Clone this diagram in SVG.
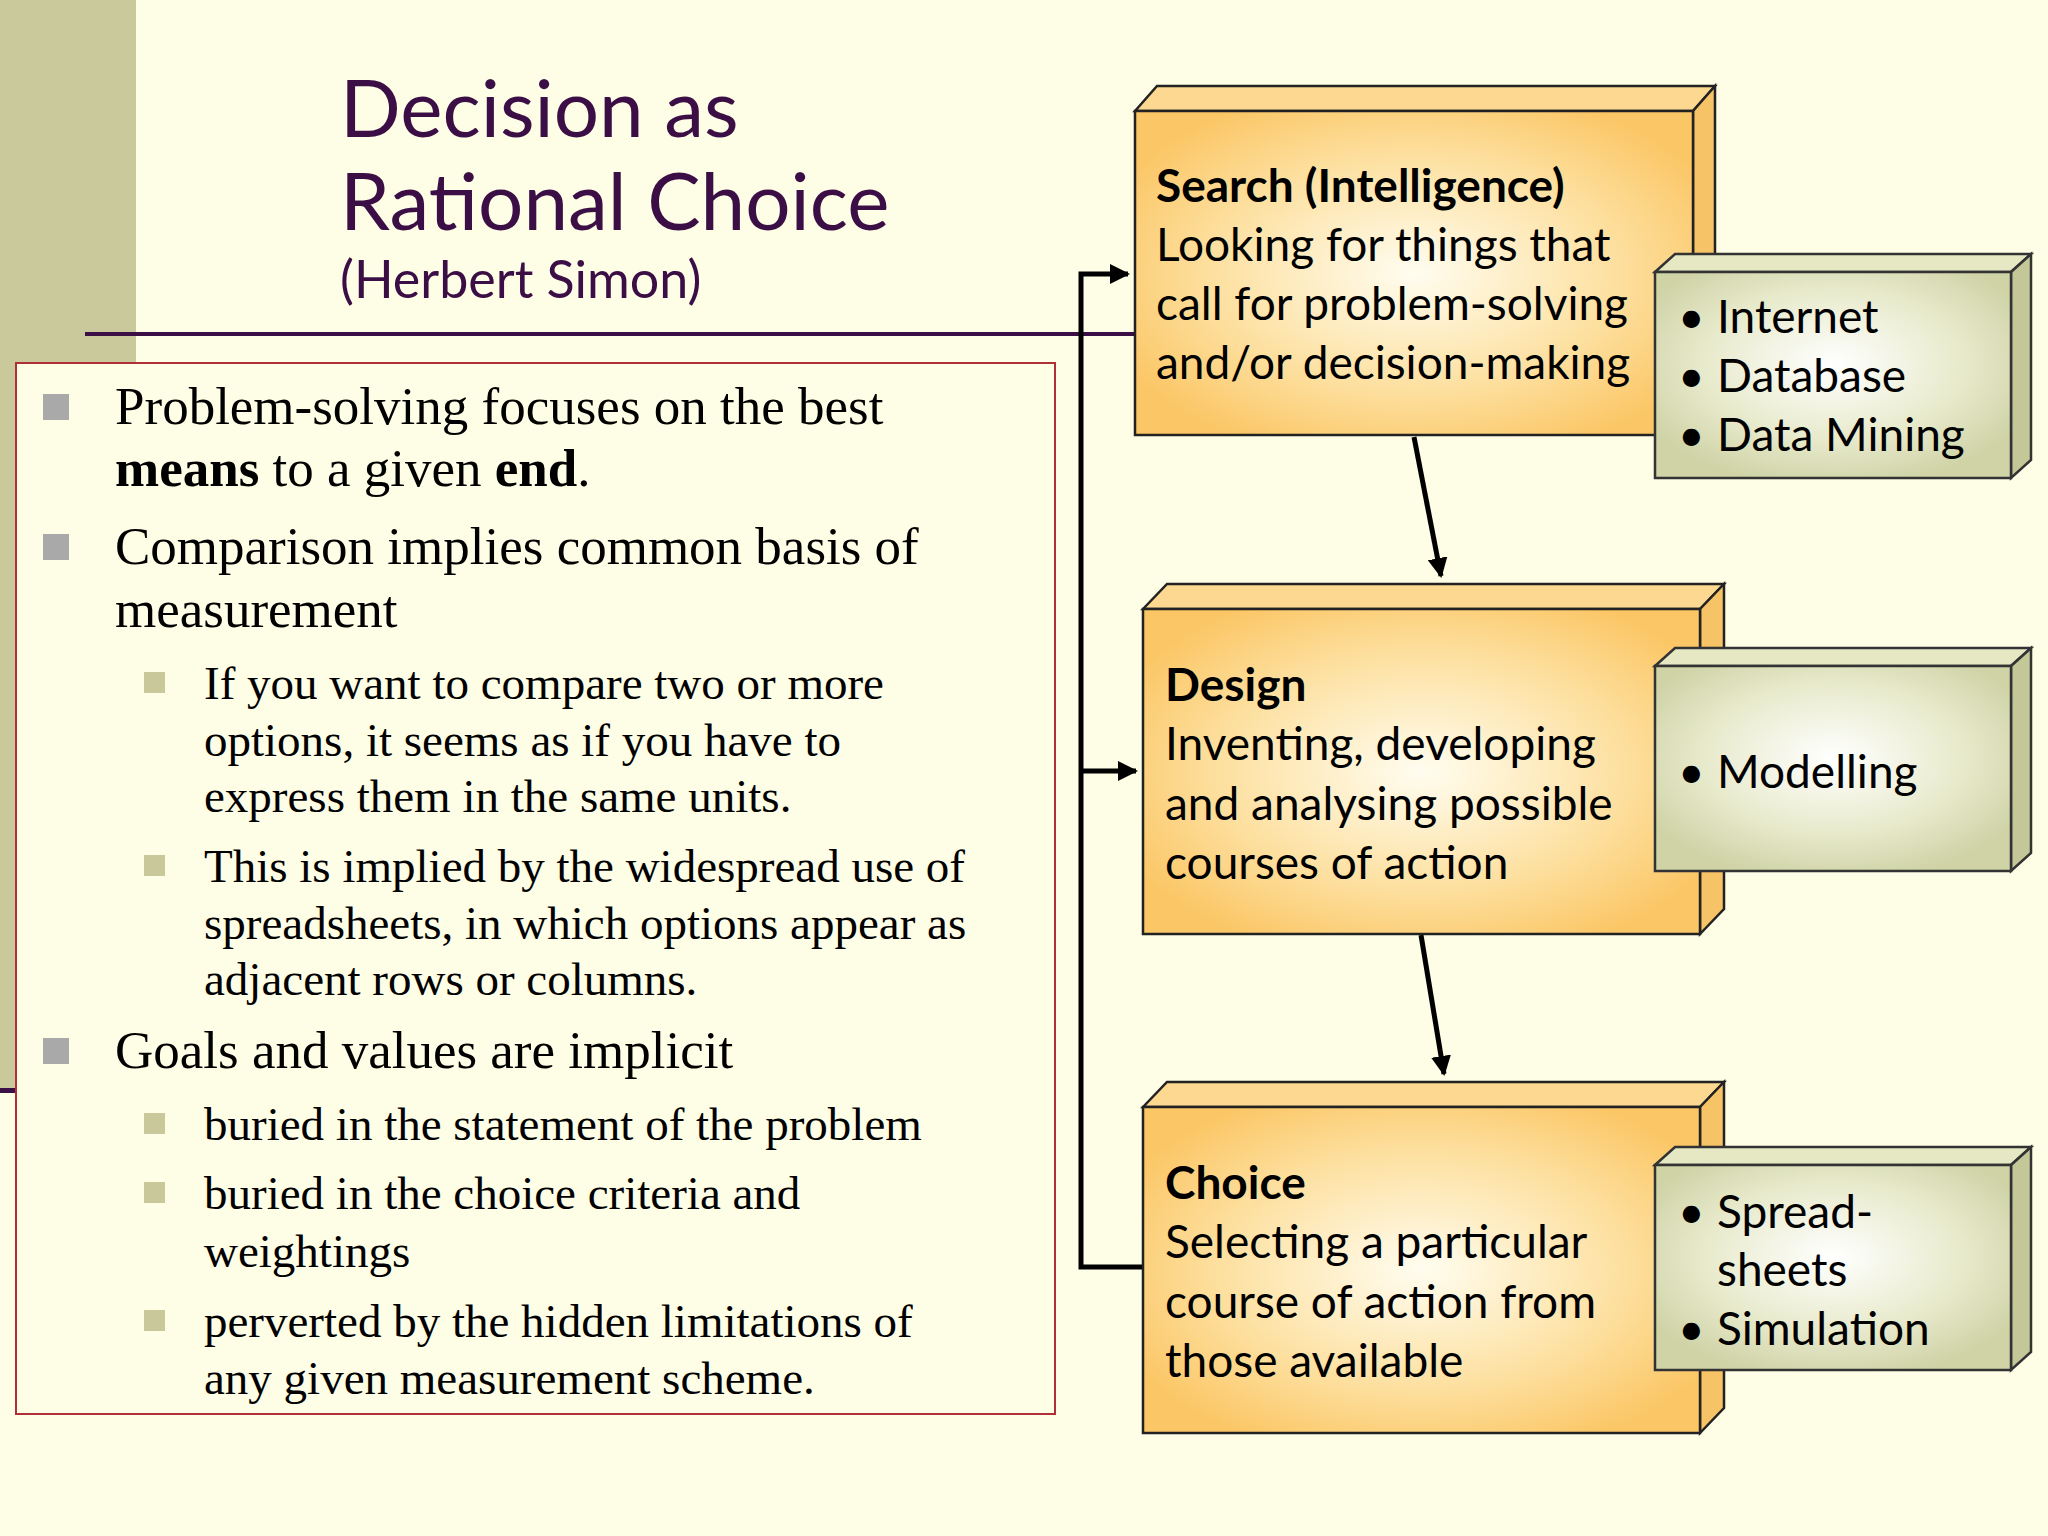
<svg xmlns="http://www.w3.org/2000/svg" width="2048" height="1536" viewBox="0 0 2048 1536">
<defs>
<radialGradient id="og" cx="0.5" cy="0.5" r="0.6"><stop offset="0" stop-color="#fffdf0"/><stop offset="0.6" stop-color="#fde0a0"/><stop offset="1" stop-color="#fbc665"/></radialGradient>
<radialGradient id="gg" cx="0.5" cy="0.45" r="0.6"><stop offset="0" stop-color="#ffffff"/><stop offset="0.6" stop-color="#e8eacc"/><stop offset="1" stop-color="#cfd3a6"/></radialGradient>
<marker id="ah" viewBox="0 0 10 10" refX="9" refY="5" markerWidth="4" markerHeight="4" orient="auto"><path d="M0,0 L10,5 L0,10 z" fill="#000"/></marker>
<style>
.t{font-family:"Liberation Serif",serif;fill:#000}
.m{font-size:53px}.s{font-size:47px}
.b{font-family:Lato,"Open Sans",sans-serif;font-size:46px;fill:#000}
.tt{font-family:Lato,"Open Sans",sans-serif;fill:#3b0f45}
.sq{fill:#a9a9a9}.ssq{fill:#c8c89a}
.of{fill:url(#og);stroke:#222;stroke-width:2.5}
.ot{fill:#fcd890;stroke:#222;stroke-width:2.5}
.os{fill:#f6c366;stroke:#222;stroke-width:2.5}
.gf{fill:url(#gg);stroke:#333;stroke-width:2.5}
.gt{fill:#e6e8c4;stroke:#333;stroke-width:2.5}
.gs{fill:#c4c898;stroke:#333;stroke-width:2.5}
.c{fill:none;stroke:#000;stroke-width:5}
</style>
</defs>
<rect width="2048" height="1536" fill="#fefde6"/>
<rect x="0" y="0" width="136" height="1090" fill="#c9c99b"/>
<rect x="0" y="1088" width="16" height="5" fill="#3b0f45"/>
<line x1="85" y1="334" x2="1140" y2="334" stroke="#3b0f45" stroke-width="4"/>
<g id="title">
<text class="tt" x="340" y="137" font-size="80">Decision as</text>
<text class="tt" x="340" y="230" font-size="80">Rational Choice</text>
<text class="tt" x="340" y="298" font-size="52">(Herbert Simon)</text>
</g>
<g id="textbox">
<rect x="16" y="363" width="1039" height="1051" fill="#fefde6" stroke="#b03038" stroke-width="2"/>
<rect class="sq" x="43" y="394" width="26" height="26"/>
<text class="t m" x="115" y="424">Problem-solving focuses on the best</text>
<text class="t m" x="115" y="486"><tspan font-weight="bold">means</tspan> to a given <tspan font-weight="bold">end</tspan>.</text>
<rect class="sq" x="43" y="534" width="26" height="26"/>
<text class="t m" x="115" y="564">Comparison implies common basis of</text>
<text class="t m" x="115" y="627">measurement</text>
<rect class="ssq" x="144" y="672" width="21" height="21"/>
<text class="t s" x="204" y="699">If you want to compare two or more</text>
<text class="t s" x="204" y="756">options, it seems as if you have to</text>
<text class="t s" x="204" y="812">express them in the same units.</text>
<rect class="ssq" x="144" y="855" width="21" height="21"/>
<text class="t s" x="204" y="882">This is implied by the widespread use of</text>
<text class="t s" x="204" y="939">spreadsheets, in which options appear as</text>
<text class="t s" x="204" y="995">adjacent rows or columns.</text>
<rect class="sq" x="43" y="1038" width="26" height="26"/>
<text class="t m" x="115" y="1068">Goals and values are implicit</text>
<rect class="ssq" x="144" y="1113" width="21" height="21"/>
<text class="t s" x="204" y="1140">buried in the statement of the problem</text>
<rect class="ssq" x="144" y="1182" width="21" height="21"/>
<text class="t s" x="204" y="1209">buried in the choice criteria and</text>
<text class="t s" x="204" y="1267">weightings</text>
<rect class="ssq" x="144" y="1310" width="21" height="21"/>
<text class="t s" x="204" y="1337">perverted by the hidden limitations of</text>
<text class="t s" x="204" y="1394">any given measurement scheme.</text>
</g>
<g id="connectors">
<path class="c" d="M1143,1267 H1081 V274 H1128" marker-end="url(#ah)"/>
<path class="c" d="M1081,771 H1136" marker-end="url(#ah)"/>
<line class="c" x1="1414" y1="437" x2="1441" y2="576" marker-end="url(#ah)"/>
<line class="c" x1="1421" y1="935" x2="1444" y2="1074" marker-end="url(#ah)"/>
</g>
<g id="search">
<polygon class="ot" points="1135,111 1157,86 1715,86 1693,111"/>
<polygon class="os" points="1693,111 1715,86 1715,410 1693,435"/>
<rect class="of" x="1135" y="111" width="558" height="324"/>
<text class="b" x="1156" y="202" font-weight="bold">Search (Intelligence)</text>
<text class="b" x="1156" y="261">Looking for things that</text>
<text class="b" x="1156" y="320">call for problem-solving</text>
<text class="b" x="1156" y="379">and/or decision-making</text>
</g>
<g id="sources">
<polygon class="gt" points="1655,272 1675,254 2031,254 2011,272"/>
<polygon class="gs" points="2011,272 2031,254 2031,460 2011,478"/>
<rect class="gf" x="1655" y="272" width="356" height="206"/>
<text class="b" x="1678" y="333">•</text><text class="b" x="1717" y="333">Internet</text>
<text class="b" x="1678" y="392">•</text><text class="b" x="1717" y="392">Database</text>
<text class="b" x="1678" y="451">•</text><text class="b" x="1717" y="451">Data Mining</text>
</g>
<g id="design">
<polygon class="ot" points="1143,609 1167,584 1724,584 1700,609"/>
<polygon class="os" points="1700,609 1724,584 1724,909 1700,934"/>
<rect class="of" x="1143" y="609" width="557" height="325"/>
<text class="b" x="1165" y="701" font-weight="bold">Design</text>
<text class="b" x="1165" y="760">Inventing, developing</text>
<text class="b" x="1165" y="820">and analysing possible</text>
<text class="b" x="1165" y="879">courses of action</text>
</g>
<g id="modelling">
<polygon class="gt" points="1655,666 1675,648 2031,648 2011,666"/>
<polygon class="gs" points="2011,666 2031,648 2031,853 2011,871"/>
<rect class="gf" x="1655" y="666" width="356" height="205"/>
<text class="b" x="1678" y="788">•</text><text class="b" x="1717" y="788">Modelling</text>
</g>
<g id="choice">
<polygon class="ot" points="1143,1107 1167,1082 1724,1082 1700,1107"/>
<polygon class="os" points="1700,1107 1724,1082 1724,1408 1700,1433"/>
<rect class="of" x="1143" y="1107" width="557" height="326"/>
<text class="b" x="1165" y="1199" font-weight="bold">Choice</text>
<text class="b" x="1165" y="1258">Selecting a particular</text>
<text class="b" x="1165" y="1318">course of action from</text>
<text class="b" x="1165" y="1377">those available</text>
</g>
<g id="tools">
<polygon class="gt" points="1655,1165 1675,1147 2031,1147 2011,1165"/>
<polygon class="gs" points="2011,1165 2031,1147 2031,1352 2011,1370"/>
<rect class="gf" x="1655" y="1165" width="356" height="205"/>
<text class="b" x="1678" y="1228">•</text><text class="b" x="1717" y="1228">Spread-</text>
<text class="b" x="1717" y="1286">sheets</text>
<text class="b" x="1678" y="1345">•</text><text class="b" x="1717" y="1345">Simulation</text>
</g>
</svg>
